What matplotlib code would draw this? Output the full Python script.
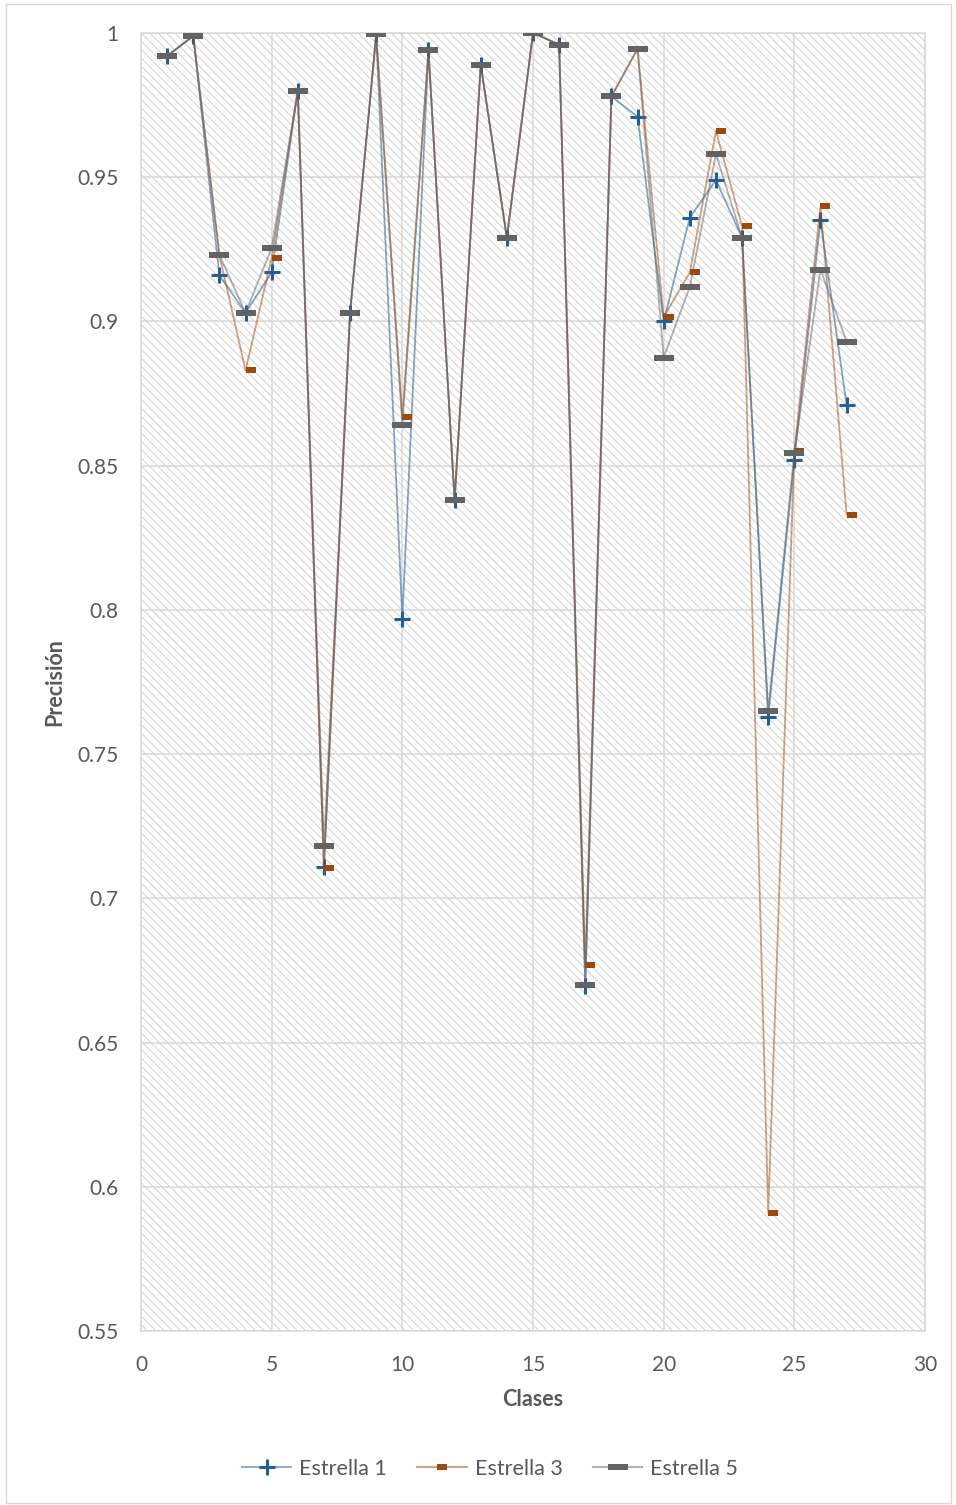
import matplotlib
matplotlib.use('Agg')
import matplotlib.pyplot as plt
import numpy as np
from matplotlib.path import Path
from matplotlib.patches import Rectangle
from matplotlib.lines import Line2D
from matplotlib.ticker import FuncFormatter

clases = list(range(1, 28))
estrella_1 = [0.992, 0.999, 0.916, 0.903, 0.917, 0.980, 0.711, 0.903, 0.9995, 0.797,
              0.994, 0.838, 0.989, 0.929, 1.000, 0.996, 0.6695, 0.978, 0.971, 0.900,
              0.936, 0.949, 0.929, 0.763, 0.852, 0.935, 0.871]
estrella_3 = [0.992, 0.999, 0.923, 0.883, 0.922, 0.980, 0.7105, 0.903, 0.9995, 0.867,
              0.994, 0.838, 0.989, 0.929, 1.000, 0.996, 0.677, 0.978, 0.9945, 0.9015,
              0.917, 0.966, 0.933, 0.591, 0.855, 0.940, 0.833]
estrella_5 = [0.992, 0.999, 0.923, 0.903, 0.9255, 0.980, 0.718, 0.903, 0.9995, 0.864,
              0.994, 0.838, 0.989, 0.929, 1.000, 0.996, 0.670, 0.978, 0.9945, 0.8875,
              0.912, 0.958, 0.929, 0.765, 0.8545, 0.918, 0.893]
nombres = ['Estrella 1', 'Estrella 3', 'Estrella 5']

txt = '#595959'
grid_c = '#d9d9d9'
plt.rcParams['font.family'] = ['Lato', 'DejaVu Sans']
plt.rcParams['hatch.linewidth'] = 0.8
plt.rcParams['hatch.color'] = '#d6d6d6'

# marcadores tipo Excel (el de Estrella 3 sale corrido a la derecha)
def rect(x0, x1, h):
    return Path([(x0, -h), (x1, -h), (x1, h), (x0, h), (x0, -h)], [1, 2, 2, 2, 79])

dash_small = rect(-0.05, 1.0, 0.3)
dash_small_c = rect(-1, 1, 0.55)
dash_wide = rect(-1, 1, 0.3)

fig = plt.figure(figsize=(9.56, 15.05), dpi=100)
fig.patches.append(Rectangle((6 / 956, 2 / 1505), 945 / 956, 1499 / 1505, transform=fig.transFigure,
                             fill=False, edgecolor='#d9d9d9', lw=1.0))
ax = fig.add_axes([141 / 956, 1 - 1331 / 1505, 784 / 956, 1298 / 1505])
ax.set_facecolor('white')
ax.add_patch(Rectangle((0, 0), 1, 1, transform=ax.transAxes, facecolor='none',
                       hatch='\\\\\\\\', edgecolor='#d6d6d6', lw=0, zorder=0))

ax.plot(clases, estrella_1, color='#255e91', alpha=0.55, lw=1.3, zorder=3)
ax.plot(clases, estrella_1, ls='none', marker='+', ms=11, mew=2.2, color='#255e91', zorder=3.1)
ax.plot(clases, estrella_3, color='#9e480e', alpha=0.5, lw=1.3, zorder=4)
ax.plot(clases, estrella_3, ls='none', marker=dash_small, ms=13.7, mew=0, color='#9e480e', zorder=4.1)
ax.plot(clases, estrella_5, color='#636363', alpha=0.5, lw=1.3, zorder=5)
ax.plot(clases, estrella_5, ls='none', marker=dash_wide, ms=13.7, mew=0, color='#636363', zorder=5.1)

ax.set_xlim(0, 30)
ax.set_ylim(0.55, 1.0)
ax.set_xticks(np.arange(0, 31, 5))
ax.set_yticks(np.arange(0.55, 1.001, 0.05))
ax.yaxis.set_major_formatter(FuncFormatter(lambda v, p: ('%.2f' % v).rstrip('0').rstrip('.')))
ax.grid(True, color=grid_c, lw=1.1, zorder=1)
ax.set_axisbelow(True)
for s in ax.spines.values():
    s.set_color(grid_c)
    s.set_linewidth(1.1)
ax.tick_params(length=0, labelsize=15, labelcolor=txt)
ax.tick_params(axis='y', pad=16)
ax.tick_params(axis='x', pad=17)

ax.set_xlabel('Clases', fontsize=15.5, fontweight='bold', color=txt)
ax.set_ylabel('Precisión', fontsize=15.5, fontweight='bold', color=txt)
ax.xaxis.label.set_va('center')
ax.yaxis.label.set_va('center')
ax.xaxis.set_label_coords(0.5, -(1399 - 1331) / 1298)
ax.yaxis.set_label_coords(-(141 - 55) / 784, 0.5)

handles = [
    Line2D([], [], color='#92aec8', lw=1.5, marker='+', ms=11, mew=2.2, mec='#255e91'),
    Line2D([], [], color='#cea386', lw=1.5, marker=dash_small_c, ms=7, mew=0, mfc='#9e480e'),
    Line2D([], [], color='#b1b1b1', lw=1.5, marker=dash_wide, ms=13.7, mew=0, mfc='#636363'),
]
fig.legend(handles, nombres, loc='center', bbox_to_anchor=(490 / 956, 1 - 1469 / 1505), ncol=3,
           frameon=False, fontsize=15.5, labelcolor=txt, handlelength=2.3, handletextpad=0.37,
           columnspacing=1.4)

fig.savefig('out.png', dpi=100)
